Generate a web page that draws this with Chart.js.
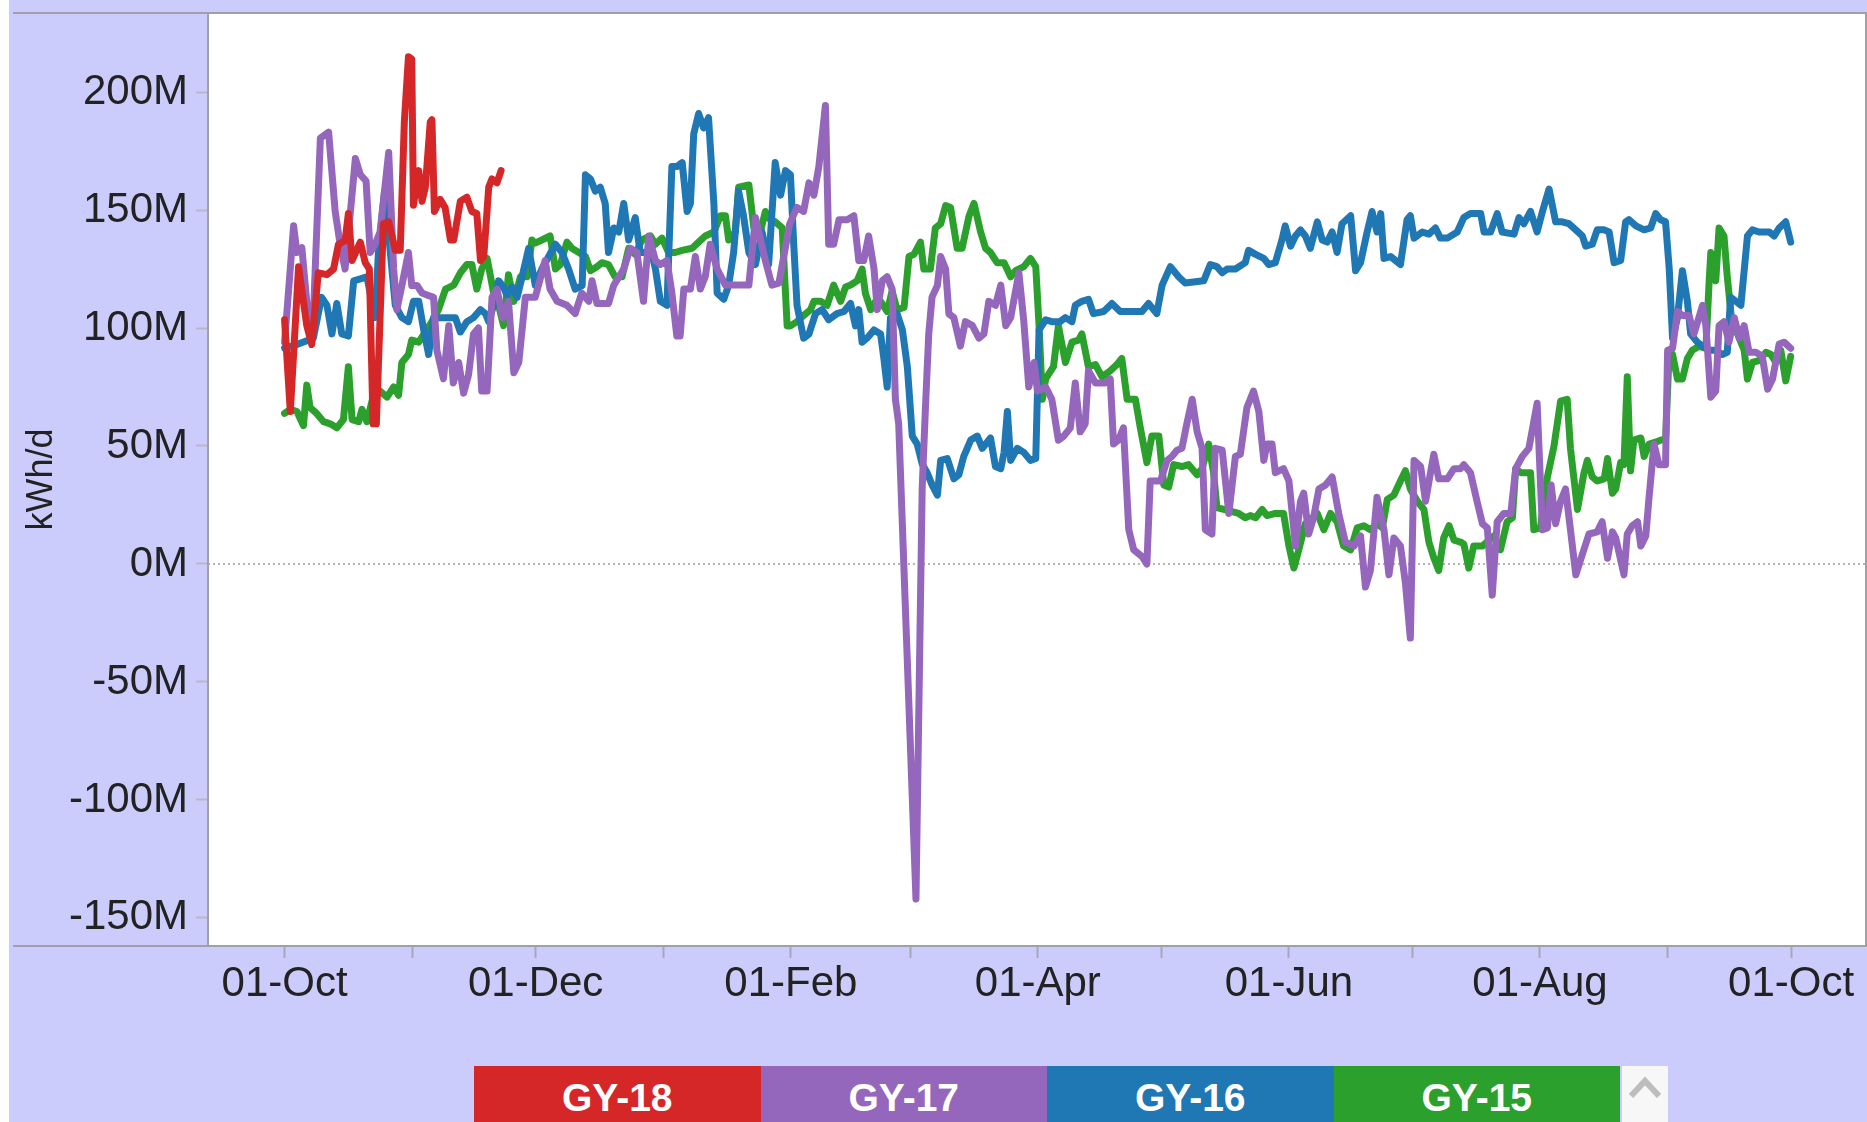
<!DOCTYPE html>
<html><head><meta charset="utf-8">
<script src="https://cdn.jsdelivr.net/npm/chart.js@4.4.1/dist/chart.umd.min.js"></script>
<style>
html,body{margin:0;padding:0;background:#fff;}
#wrap{position:relative;width:1867px;height:1122px;overflow:hidden;}
canvas{position:absolute;left:0;top:0;}
.leg{position:absolute;top:1066px;height:64px;color:#fff;font:bold 39px "Liberation Sans",Arial,sans-serif;display:flex;align-items:center;justify-content:center;box-sizing:border-box;}
.scroll{position:absolute;top:1066px;height:70px;left:1622px;width:46px;background:#f7f7f7;}
</style></head><body>
<div id="wrap"><canvas id="c" width="1867" height="1122"></canvas><div id="legend"></div></div>
<script>
// ---- categories / ticks ----
const monthLabels = ['01-Oct','01-Nov','01-Dec','01-Jan','01-Feb','01-Mar','01-Apr','01-May','01-Jun','01-Jul','01-Aug','01-Sep','01-Oct'];
const monthStartDays = [0,31,61,92,123,152,183,213,244,274,305,336,366];
const yTickValues = [-150,-100,-50,0,50,100,150,200];
const seriesNames = ['GY-18','GY-17','GY-16','GY-15'];
const seriesColors = ['#d62728','#9467bd','#1f77b4','#2ca02c'];

// ---- series (day since 01-Oct, value in M kWh/d) ----
const gy18Days = [0,1.4,3.4,5.4,6.6,8.2,10.3,11.9,13.1,14.7,15.5,16.4,18.4,19.6,20.6,21.5,22.3,24.0,25.3,26.9,28.1,29.1,30.1,30.9,31.3,32.6,33.4,34.2,35.4,35.8,36.4,37.8,39.0,40.3,41.1,42.7,44.3,45.5,46.7,47.6,48.4,49.6,50.4,51.6,52.6];
const gy18Vals = [103.5,64.6,126,101,93,123.4,122.6,125,135.5,137,148.5,128.6,136.4,127.7,125,59.4,59.4,144.2,145,133,133,187.4,215,214,152,166.7,153.7,159.7,187.4,188.3,149.4,154.5,151,137.3,137.3,153.7,155.4,149.4,148.5,128.6,130.3,159.7,163.2,161.5,166.7];

const gy17Days = [0,2.2,3.0,4.2,5.4,6.8,8.7,10.7,12.3,13.5,14.7,17.2,18.4,19.8,20.8,22.0,23.2,25.3,26.5,27.3,28.5,30.1,30.9,32.2,33.4,34.6,36.2,37.0,38.6,39.9,41.0,42.3,43.5,44.7,45.9,47.1,47.9,49.2,50.4,51.6,53.0,54.4,55.7,56.9,58.5,60.9,63.3,64.5,66.2,68.6,70.6,72.2,73.9,74.7,75.9,78.7,80.0,82.4,84.0,85.6,87.2,88.5,90.1,91.3,92.9,94.1,95.3,96.1,97.0,98.6,99.8,101.0,102.2,103.4,105.1,107.1,109.5,112.8,114.4,116.8,118.4,120.1,122.7,124.5,126.1,127.4,128.6,129.8,131.4,132.2,133.4,134.7,136.7,138.3,139.5,140.7,141.9,143.2,144.0,145.2,146.4,147.6,148.4,149.2,153.4,154.9,155.7,156.5,157.3,158.6,159.4,160.6,161.4,162.6,164.2,165.4,167.1,168.7,169.9,171.1,172.7,174.0,175.2,176.4,178.4,179.6,180.8,182.1,182.9,184.9,186.4,188.0,189.3,190.9,192.1,193.3,194.5,195.3,197.0,199.4,200.6,201.4,202.6,203.8,205.1,206.3,208.3,209.5,210.3,212.8,214.4,215.6,216.8,218.0,219.2,220.5,221.7,222.9,223.7,225.3,226.1,227.8,229.4,231.0,232.2,233.8,235.4,236.7,237.9,238.7,239.9,240.7,242.7,244.0,245.6,246.8,247.6,248.8,250.0,251.3,252.9,254.5,256.1,257.7,259.8,261.4,262.6,263.8,265.4,267.1,268.3,269.5,271.1,272.3,273.5,274.4,276.0,277.2,278.4,279.2,280.4,282.5,284.1,285.7,286.5,288.1,289.7,291.0,292.2,293.4,294.6,296.2,297.9,299.1,300.7,302.3,304.3,305.6,306.8,307.7,308.8,310.0,311.2,312.4,313.7,315.3,316.9,318.9,320.1,321.4,322.6,323.4,325.4,326.2,327.4,328.7,329.5,330.7,331.5,332.7,333.9,335.5,336.0,337.2,338.4,339.6,341.2,342.4,344.5,345.3,346.5,347.7,348.5,349.7,350.9,352.2,353.4,354.6,355.8,357.4,359.0,360.3,361.5,363.1,364.3,365.9];
const gy17Vals = [94,143.3,132,134,111,96.3,180.5,183,149.4,135.5,125,171.8,165,162.3,132,135.5,140.7,174.4,125,107.8,118,132,118,118,114.8,114,113,90.6,78.5,101,76.7,85.4,72.4,80.2,97.5,100,73.3,73.3,113,116.5,104.4,111.3,81,85.4,113,113,128.6,116.5,111.3,109.6,106.1,114.8,111.3,120,110.4,110.4,118.2,125,133.8,132,111.3,139,128.6,126.9,128.6,114.8,96.6,96.6,116.5,116.5,130.3,116.5,121.7,135.5,125,118.2,118.2,118.2,146.8,128.6,118.2,119,144,151.1,149.4,161.5,156.3,168.4,194.3,135.5,135.5,145.9,145.9,147.6,128.6,128.6,139,125.1,107.8,120,121.7,116.5,69.8,59.4,-142,31.8,66.3,97.5,113.1,118,130.3,125,106,104.4,92.3,102.7,101,95.7,97.5,111.3,109.6,118.2,101,104.4,123.4,102.7,75,85.4,73.3,75,69.8,52.5,54.2,57.7,76.7,56,59.4,81.9,76.7,76.7,78.4,50.8,52.5,57.7,14.5,6,3.2,0,35.2,35.2,43.9,45.6,48.2,49,59.4,69.8,56,49,14.5,12.7,49,48.2,21.4,45.6,46.5,66.3,73.3,64.6,43.9,50.8,50.8,38.7,40.4,35.2,7.6,26.6,30,12.7,19.7,31.8,33.5,36.9,21.4,9.3,7.6,11.9,-9.8,-2.8,28.3,14.5,-4.6,11,7.6,-8,-31.4,43.9,41.3,26.6,38.7,46.5,36.1,36.1,40.4,40.4,42.1,38.7,26.6,17.1,15.3,-13.2,17.9,21.4,21.4,40.4,45.6,49,68.1,14.5,15.3,33.5,17.1,26.6,31.8,14.5,-4.6,4.1,12.7,13.6,17.9,2.4,13.6,11,-4.6,12.7,16.2,17.9,7.6,11.9,28.3,50.8,42.1,42.1,90.6,91.4,107,105.3,105.3,97.5,109.6,100.9,70.7,73.3,101,102.7,94,104.4,95.7,101,89.7,89.7,88,74.1,78.4,93.2,94,91.4];

const gy16Days = [0,3,7.0,9.0,10.3,11.5,12.7,13.9,15.5,16.8,18.4,20.0,22.0,22.8,24.3,25.7,26.9,28.5,30.1,31.3,32.6,33.8,35.0,36.2,37.8,39.4,41.5,42.7,44.3,45.9,47.6,48.8,49.6,50.8,52.0,53.2,54.0,55.3,56.5,57.7,59.3,60.9,62.5,65.8,67.4,69.0,70.6,72.3,73.1,74.3,75.5,76.7,77.9,78.7,80.0,81.2,82.4,83.6,85.2,86.4,87.6,88.9,90.1,91.3,92.9,94.1,95.3,96.6,97.8,98.6,99.4,100.6,101.8,103.0,104.3,105.1,106.7,107.9,109.1,110.3,111.5,112.8,114.4,116.0,117.6,119.2,120.5,121.7,122.9,123.7,124.5,126.1,127.4,129.0,130.6,132.2,134.2,135.9,137.5,138.7,139.5,140.3,141.5,143.2,144.8,145.6,146.4,147.2,148.8,150.1,151.3,152.5,153.7,154.9,156.1,157.3,158.6,159.4,161.0,162.6,163.8,165.0,166.7,168.3,169.5,171.5,172.7,174.0,174.8,175.6,176.4,178.0,179.6,181.2,182.5,183.3,184.9,186.4,188.4,189.7,191.3,192.1,193.7,195.3,196.5,199.0,201.0,203.0,208.3,209.9,211.9,213.2,215.2,217.2,218.8,223.3,224.9,226.5,227.8,229.0,231.0,233.4,234.2,235.9,237.9,239.1,240.7,242.3,243.1,244.4,245.6,246.8,248.0,249.2,250.9,252.1,253.3,254.5,255.7,256.9,259.0,260.2,261.4,263.0,264.2,265.4,266.3,267.1,268.7,271.1,272.7,273.5,274.4,276.4,278.0,279.6,280.8,282.5,284.9,286.5,288.1,290.6,291.4,293.0,294.6,295.8,298.7,299.9,301.1,302.7,304.3,305.6,307.2,308.8,310.4,312.0,313.7,315.3,316.1,317.7,318.9,320.6,321.8,323.0,324.6,325.8,326.6,328.3,330.3,331.9,333.1,334.3,335.5,336.4,337.2,338.4,339.6,340.8,341.6,343.2,344.5,346.1,347.7,349.3,350.5,351.3,352.6,353.8,355.4,356.6,358.2,360.7,361.9,363.1,364.7,365.9];
const gy16Vals = [91.5,93,95.7,113,109.6,97.5,110.4,97.5,96.6,120,120.8,121.7,104.4,132,158,132,109.6,104.4,102.7,111.3,111.3,99.2,88.8,104.4,104.4,104.4,104.4,98.3,102.7,104.4,107.8,106.1,102.7,109.6,120,117.4,113.9,117.4,113,121.7,133.8,118.2,125,135.5,132,125,116.5,118,164.9,163.2,158,159.7,152.8,132,142.4,140.7,152.8,137.3,146.8,132,132,133.8,125,111.3,109.6,168.4,168.4,170.1,149.4,152.8,182.2,190.9,184.8,189.1,152.8,114.8,112.2,118.2,132,158,147.6,132,126.9,140.7,126.9,170.1,156.3,166.7,165,135.5,109.6,95.7,97.5,106.1,107.8,103.5,106.1,107,110.4,100.9,107.8,94,95.7,99.2,97.5,87.1,75,104.4,106.1,99.2,83.6,54.2,50.8,42.4,38.7,33.5,29.2,43.9,44.7,36.1,37.8,45.6,52.5,54.2,49,53.4,41.3,40.4,47.3,64.6,43.9,49,47.3,43.9,44.7,99.2,103.5,102.7,102.7,104.4,102.7,109.6,111.3,112.2,106.1,107,110.4,107,107,110.4,106.1,118.2,126,121.7,119.1,120,126.9,126,123.4,125,125,127.7,132.9,131.2,129.5,126.9,127.7,137.3,143.3,134.7,139,141.6,139,133.8,145,137.3,136.4,140.7,132,144.2,147.6,124.3,127.7,140.7,149.4,140.7,148.5,129.5,130.3,126.9,145.9,147.6,138.1,140.7,139.8,142.4,138.1,138.1,140.7,146.8,148.5,148.5,140.7,140.7,148.5,140.7,139.8,146.8,144.2,149.4,140.7,149.4,158.9,145,145,144.2,141.6,139,134.7,135.5,141.6,141.6,140.7,127.7,128.6,145,145.9,143.3,141.6,142.4,148.5,145.9,145,125,95.7,104.4,124.3,111.3,97.5,94,92.3,90.6,90.6,88.8,89.7,113,111.3,109.6,139,141.6,140.7,140.7,139,142.4,145,136.4];

const gy15Days = [0,1.4,3.0,4.6,5.4,6.2,7.8,9.5,11.1,12.7,14.3,15.5,16.4,18.0,18.8,20.0,21.6,23.2,24.9,26.5,27.7,28.5,30.1,30.9,32.6,35.8,37.4,39.1,41.1,42.7,44.3,45.5,46.7,47.9,49.2,50.8,52.0,53.2,54.4,55.7,57.3,58.9,60.1,60.9,62.5,64.5,65.8,67.0,68.6,69.8,73.1,74.3,75.9,77.1,78.7,80.3,82.0,83.6,85.2,86.8,88.9,90.1,91.7,93.3,94.9,96.6,99.0,100.6,102.2,104.3,105.9,107.1,107.9,109.5,110.3,112.8,114.0,115.6,116.8,118.0,119.2,120.9,122.1,122.9,124.5,126.1,127.8,128.6,130.2,131.8,133.4,135.1,136.3,137.5,139.1,140.3,141.1,142.4,143.6,144.8,146.4,147.6,148.8,150.5,151.7,152.9,154.5,155.3,156.9,158.1,159.4,160.6,161.8,163.4,164.6,166.3,167.5,169.1,170.3,171.5,173.1,174.8,176.4,177.6,179.6,181.2,182.5,183.3,184.1,184.9,186.8,188.0,189.7,191.3,192.9,193.7,195.3,197.0,198.6,200.6,202.2,203.4,204.7,206.7,207.9,209.5,210.7,212.4,213.6,214.8,216.0,218.0,219.6,221.7,222.9,224.5,225.7,226.5,228.2,230.2,231.8,233.4,234.6,235.9,237.5,238.7,240.7,242.7,244.0,245.2,246.4,248.0,249.2,250.9,252.5,254.1,255.7,257.3,259.0,260.6,262.2,263.8,265.4,266.7,267.9,269.5,271.1,272.3,273.5,275.2,276.8,278.0,279.2,280.4,281.6,282.9,284.1,285.7,286.5,287.7,288.9,291.0,292.6,293.8,295.4,297.0,298.3,299.1,300.3,302.7,303.5,305.1,306.8,308.4,310.0,311.6,312.4,314.1,315.7,316.5,317.7,318.9,320.6,321.4,322.6,323.4,324.6,325.4,326.2,327.0,327.8,329.5,330.3,331.5,333.1,334.3,335.5,336.4,337.2,338.4,339.6,340.8,342.0,343.6,345.3,346.1,346.5,347.7,348.5,349.7,350.5,351.7,353.0,354.6,355.4,356.6,358.2,359.9,361.1,362.3,363.5,364.7,365.9];
const gy15Vals = [63.8,65.5,64.6,58.6,75.8,66.3,63.8,60.3,59.4,57.7,61.2,83.6,61.2,60.3,65.5,60.3,71.5,73.3,70.7,75,71.5,85.4,88.8,94.9,94,102.7,107.8,116.5,118.2,123.4,126.9,126.9,116.5,125,129.5,114.8,109.6,101,122.6,111.3,121.7,121.7,137.3,136,137.3,139,125,126.9,136.4,133.8,130.3,124.3,126,127.7,126.9,121.7,121.7,133.8,131.2,137.3,139,135.5,138.1,132,132,132.9,133.8,136.4,139,140.7,147.6,147.6,137.3,140.7,159.7,160.6,142.4,140.7,149.4,145.9,145,142.4,100.9,100.9,102.7,105.3,107.8,111.3,111.3,109.6,118.2,111.3,117.4,118.2,120,125,114.8,107.8,111.3,111.3,107,115.6,107.8,108.7,130.3,131.2,136.4,125,125,142.4,144.2,151.9,151.1,133.8,133.8,147.6,152.8,140.7,133.8,132,127.7,127.7,121.7,124.3,126,129.5,126,100.9,69.8,78.4,83.6,100.9,85.4,94,94.9,97.5,83.6,84.5,79.3,81.9,84.5,87.1,69.8,69.8,57.7,43,54.2,54.2,33.5,32.6,42.1,41.3,42.1,37.8,40.4,50.8,38.7,23.9,23.1,22.2,21.4,19.6,20.5,19.6,23.1,20.5,21.4,21.4,7.6,-1.7,6,17.1,18.8,21.4,14.5,21.4,17.9,7.6,6,15.3,16.2,14.5,17.1,15.3,27.4,29.2,35.2,39.5,31.8,26.6,23.1,9.3,2.6,-2.8,11,16.2,10.1,9.3,8.4,-1.7,7.6,7.6,10.1,11.9,6,17.9,19.6,40.4,38.7,38.7,14.5,15.3,36.9,50,69,69.8,49,23.1,38.7,43.9,36.9,35.2,36.1,44.7,30,31.8,43,42.1,79.3,39.5,52.5,53.4,45.6,50.8,51.6,52.5,52.5,90.6,88.8,78.4,78.4,87.1,90.6,92.3,91.4,120,132,120,142.4,139,121.7,100.9,97.5,90.6,78.4,85.4,86.2,89.7,88.8,85.4,90.6,77.6,88];

const seriesDays = [gy18Days, gy17Days, gy16Days, gy15Days];
const seriesVals = [gy18Vals, gy17Vals, gy16Vals, gy15Vals];

// ---- legend (HTML) ----
const legend = document.getElementById('legend');
seriesNames.forEach((n, i) => {
  const d = document.createElement('div');
  d.className = 'leg';
  d.style.left = (474 + i * 286.5) + 'px';
  d.style.width = '286.5px';
  d.style.background = seriesColors[i];
  d.textContent = n;
  legend.appendChild(d);
});
const sc = document.createElement('div');
sc.className = 'scroll';
sc.innerHTML = '<svg width="46" height="40"><polyline points="9,30 23,15 37,30" fill="none" stroke="#bdbdbd" stroke-width="6"/></svg>';
legend.appendChild(sc);

// ---- chart ----
const framePlugin = {
  id: 'frame',
  beforeDraw(chart) {
    const {ctx, chartArea: a, width, height} = chart;
    ctx.save();
    ctx.fillStyle = '#ffffff'; ctx.fillRect(0, 0, width, height);
    ctx.fillStyle = '#ccccfc'; ctx.fillRect(9, 0, width - 9, height);
    ctx.fillStyle = '#ffffff'; ctx.fillRect(a.left, a.top, a.right - a.left, a.bottom - a.top);
    ctx.restore();
  },
  beforeDatasetsDraw(chart) {
    const {ctx, chartArea: a, scales} = chart;
    const y0 = scales.y.getPixelForValue(0);
    ctx.save();
    ctx.strokeStyle = '#b4b4b4'; ctx.lineWidth = 2; ctx.setLineDash([2, 3]);
    ctx.beginPath(); ctx.moveTo(a.left, y0); ctx.lineTo(a.right, y0); ctx.stroke();
    ctx.restore();
  },
  afterDraw(chart) {
    const {ctx, chartArea: a, width} = chart;
    ctx.save();
    ctx.strokeStyle = '#a0a0a8'; ctx.lineWidth = 2;
    ctx.beginPath();
    ctx.moveTo(13, a.top); ctx.lineTo(width, a.top);
    ctx.moveTo(13, a.bottom); ctx.lineTo(width, a.bottom);
    ctx.moveTo(a.left, a.top); ctx.lineTo(a.left, a.bottom);
    ctx.moveTo(a.right, a.top); ctx.lineTo(a.right, a.bottom);
    ctx.stroke();
    ctx.restore();
  }
};

const FONT = '"Liberation Sans", Arial, sans-serif';

new Chart(document.getElementById('c'), {
  type: 'line',
  data: {
    datasets: seriesNames.map((n, i) => ({
      label: n,
      data: seriesDays[i].map((d, k) => ({x: d, y: seriesVals[i][k]})),
      borderColor: seriesColors[i],
      backgroundColor: seriesColors[i],
      borderWidth: 7,
      pointRadius: 0,
      tension: 0,
      fill: false,
      borderJoinStyle: 'round',
      borderCapStyle: 'round'
    }))
  },
  options: {
    responsive: false,
    devicePixelRatio: 1,
    animation: false,
    layout: {padding: {left: 0, top: 13, right: 1, bottom: 0}},
    plugins: {legend: {display: false}, tooltip: {enabled: false}},
    scales: {
      x: {
        type: 'linear',
        min: -18.6, max: 384.2,
        afterBuildTicks: s => { s.ticks = monthStartDays.map(v => ({value: v})); },
        afterFit: s => { s.height = 176; s.paddingLeft = 0; s.paddingRight = 0; },
        ticks: {
          autoSkip: false, maxRotation: 0, minRotation: 0, padding: 1,
          color: '#222', font: {family: FONT, size: 42},
          callback: (v, i) => (i % 2 === 0 ? monthLabels[i] : '')
        },
        grid: {drawOnChartArea: false, drawTicks: true, tickLength: 12, tickColor: '#a8a8b4', tickWidth: 2},
        border: {display: false}
      },
      y: {
        type: 'linear',
        min: -161.9, max: 233.5,
        afterBuildTicks: s => { s.ticks = yTickValues.map(v => ({value: v})); },
        afterFit: s => { s.width = 208; s.paddingTop = 0; s.paddingBottom = 0; },
        ticks: {
          padding: 8, color: '#222', font: {family: FONT, size: 42},
          callback: v => v + 'M'
        },
        grid: {drawOnChartArea: false, drawTicks: true, tickLength: 12, tickColor: '#b8b8c4', tickWidth: 2},
        border: {display: false},
        title: {display: true, text: 'kWh/d', color: '#222', font: {family: FONT, size: 36}, padding: {top: 20, bottom: 0}}
      }
    }
  },
  plugins: [framePlugin]
});
</script>
</body></html>
